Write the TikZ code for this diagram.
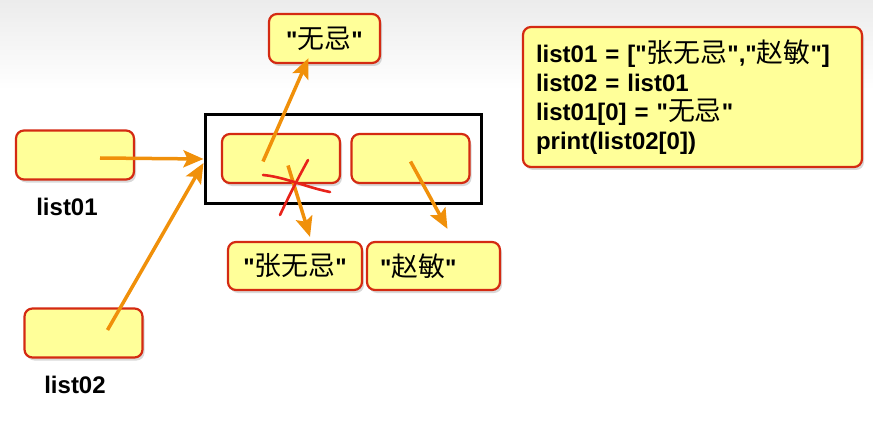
\documentclass[tikz,border=0pt]{standalone}
\usepackage{fontspec}
\setmainfont{Liberation Sans}[Ligatures=TeXOff]
\newfontfamily\cjk{Noto Sans CJK SC}[Scale=1.12]
\usepackage{xcolor}
\usetikzlibrary{arrows.meta, positioning, shadows}
\definecolor{boxfill}{HTML}{FFFF99}
\definecolor{boxline}{HTML}{D42A12}
\definecolor{arrorange}{HTML}{F0900A}
\definecolor{crossred}{HTML}{E8231A}
\newcommand{\zh}[1]{{\cjk\mdseries #1}}

\begin{document}
\begin{tikzpicture}[
  x=1pt, y=-1pt,
  font=\bfseries\fontsize{24}{29}\selectfont,
  box/.style={draw=boxline, fill=boxfill, line width=2.2pt, rounded corners=8pt,
    drop shadow={shadow xshift=2pt, shadow yshift=-3pt, opacity=0.3}},
  cell/.style={box, minimum width=118pt, minimum height=49pt},
  strbox/.style={box, minimum height=48pt},
  arr/.style={-{Stealth[length=20pt, width=17pt, inset=4pt]}, line width=3.5pt, color=arrorange},
  cross/.style={crossred, line width=2.6pt, line cap=round},
]
\useasboundingbox (0,0) rectangle (873,433);
\fill[top color=gray!15, bottom color=white] (0,0) rectangle (873,90);

% variables
\node[cell] (list01) at (75,155) {};
\node[cell] (list02) at (83.5,333) {};
\node (name01) at (67,207) {list01};
\node (name02) at (75,385) {list02};

% list object
\node[draw, line width=3pt, minimum width=276pt, minimum height=88pt,
      drop shadow={shadow xshift=2pt, shadow yshift=-2pt, opacity=0.25}, fill=white]
  (listobj) at (343,159) {};
\node[cell] (cell0) at (281,158.5) {};
\node[cell] (cell1) at (410.5,158.5) {};

% strings
\node[strbox, minimum width=111pt, minimum height=49pt] (wuji) at (324.5,38.5) {"\zh{无忌}"};
\node[strbox, minimum width=134pt] (zwj) at (295,266) {"\zh{张无忌}"};
\node[strbox, text width=107pt, inner xsep=13pt, align=left] (zm) at (433.5,266) {"\zh{赵敏}"};

% code
\node[box, minimum width=339pt, minimum height=140pt, text width=313pt, align=left,
      inner xsep=13pt, font=\bfseries\fontsize{24}{29}\selectfont] (code) at (692.5,97)
  {list01 = ["\zh{张无忌}","\zh{赵敏}"]\\
   list02 = list01\\
   list01[0] = "\zh{无忌}"\\
   print(list02[0])};

% references
\draw[arr] ([xshift=25pt,yshift=-3pt]list01.center) -- (listobj.west);
\draw[arr] ([xshift=24pt,yshift=3pt]list02.center) -- ([yshift=-4pt]listobj.west);
\draw[arr] ([xshift=-18pt,yshift=-3pt]cell0.center) -- ([xshift=-16pt,yshift=6pt]wuji.south);
\draw[arr] ([xshift=7pt,yshift=-7pt]cell0.center) -- ([xshift=15pt,yshift=4pt]zwj.north);
\draw[arr] ([yshift=-3pt]cell1.center) -- ([xshift=14pt,yshift=12pt]zm.north);

% crossed out
\draw[cross] (263,175) .. controls (285,177) and (305,187) .. (330,192);
\draw[cross] (308,160) .. controls (297,180) and (288,198) .. (280,215);
\end{tikzpicture}
\end{document}
